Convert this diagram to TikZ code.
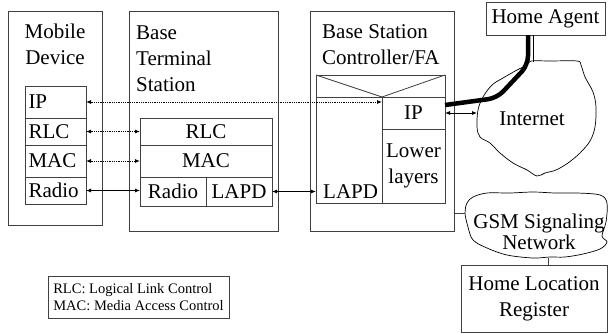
\documentclass[tikz,border=0pt]{standalone}
\usepackage{fontspec}
\setmainfont{Liberation Serif}
\newfontfamily\timesfont{Liberation Serif}
\usetikzlibrary{arrows.meta,positioning}
\newcommand\lblfont{\timesfont\fontsize{21}{26}\selectfont}
\newcommand\smallfont{\timesfont\fontsize{14.5}{16.5}\selectfont}
\tikzset{
  box/.style={draw=black!75,line width=0.8pt,inner sep=0pt,outer sep=0pt},
  title/.style={inner sep=0pt,font=\lblfont,align=left},
  mlayer/.style={box,font=\lblfont,minimum width=61,minimum height=#1,text width=54,align=left},
  clayer/.style={box,font=\lblfont,minimum height=#1},
  link/.style={line width=0.8pt,{Latex[length=5pt,width=4pt]}-{Latex[length=5pt,width=4pt]}},
  cloud line/.style={line width=0.7pt,smooth cycle,tension=0.55}
}
\begin{document}
\begin{tikzpicture}[x=1pt,y=-1pt]
  \useasboundingbox (0,0) rectangle (608,333);
  % Mobile device
  \node[box,minimum width=94,minimum height=214] (md) at (55,118) {};
  \node[title,anchor=north,align=center] at ([yshift=-13pt]md.north) {Mobile\\Device};
  \node[mlayer=32] (md-ip) at (55.5,102) {IP};
  \node[mlayer=27,below=0pt of md-ip] (md-rlc) {RLC};
  \node[mlayer=32,below=0pt of md-rlc] (md-mac) {MAC};
  \node[mlayer=27,below=0pt of md-mac] (md-radio) {Radio};
  % Base terminal station
  \node[box,minimum width=149,minimum height=220] (bts) at (203.5,121) {};
  \node[title,anchor=north west] at ([xshift=7pt,yshift=-15pt]bts.north west) {Base\\Terminal\\Station};
  \node[clayer=27,minimum width=132] (bts-rlc) at (206,131.5) {RLC};
  \node[clayer=32,minimum width=132,below=0pt of bts-rlc] (bts-mac) {MAC};
  \node[clayer=29,minimum width=66,below=0pt of bts-mac.south west,anchor=north west] (bts-radio) {Radio};
  \node[clayer=29,minimum width=66,right=0pt of bts-radio] (bts-lapd) {LAPD};
  % Base station controller
  \node[box,minimum width=144,minimum height=220] (bsc) at (382,121) {};
  \node[title,anchor=north west] at ([xshift=12pt,yshift=-13pt]bsc.north west) {Base Station\\Controller/FA};
  \node[box,minimum width=129,minimum height=128] (bscin) at (380.5,139) {};
  \node[clayer=32,minimum width=63] (bsc-ip) at (413.5,113) {IP};
  \node[clayer=74,minimum width=63,below=0pt of bsc-ip,align=center] (bsc-low) {Lower\\layers};
  \draw[box] (bscin.west |- bsc-ip.north) -- (bsc-ip.north west);
  \draw[box] (bscin.north west) -- (bsc-ip.north west) -- (bscin.north east);
  \node[title,anchor=base west] (bsc-lapd) at ([xshift=7pt,yshift=5pt]bscin.south west) {LAPD};
  % Home agent and home location register
  \node[box,font=\lblfont,minimum width=119,minimum height=33] (ha) at (545.5,18.5) {Home Agent};
  \node[box,font=\lblfont,align=center,minimum width=146,minimum height=67] (hlr) at (534,298.5) {Home Location\\Register};
  % Internet cloud
  \draw[cloud line] plot coordinates {(531,61) (550,61) (577,61) (581,65) (585,77) (593,92)
    (596,107) (595,127) (590,141) (580,153) (568,163) (556,170) (545,173) (537,176)
    (527,170) (513,163) (500,153) (490,143) (480,137) (477,127) (478,110) (483,97)
    (492,85) (503,78) (517,70) (527,65)};
  \node[title] (inet) at (532,119) {Internet};
  \coordinate (inet-w) at (477,113);
  \coordinate (inet-n) at (533,62);
  % GSM signaling network cloud
  \draw[cloud line] plot coordinates {(467,203) (473,197) (487,193) (510,193) (533,192)
    (555,193) (577,193) (600,195) (607,203) (606,222) (602,236) (607,242) (600,249)
    (583,254) (565,257) (550,257) (533,258) (507,255) (487,248) (473,240) (468,227)
    (465,213)};
  \node[title,align=center,font=\timesfont\fontsize{21}{21}\selectfont] (gsm) at (539,232) {GSM Signaling\\Network};
  \coordinate (gsm-w) at (465,213);
  \coordinate (gsm-s) at (548,258);
  % connections
  \draw[link,densely dotted] (md-ip.east) -- (md-ip.east -| bsc-ip.west);
  \draw[link,densely dotted] (md-rlc.east) -- (md-rlc.east -| bts-rlc.west);
  \draw[link,densely dotted] (md-mac.east) -- (md-mac.east -| bts-mac.west);
  \draw[link] (md-radio.east) -- (md-radio.east -| bts-radio.west);
  \draw[link] (bts-lapd.east) -- (bts-lapd.east -| bscin.west);
  \draw[link] (bsc-ip.east) -- (inet-w);
  \draw[line width=4.5pt,rounded corners=9pt] ([xshift=-17.5pt]ha.south) -- ++(0,30) -- (497,98) -- ([yshift=-8pt]bsc-ip.north east);
  \draw[line width=0.7pt] (inet-n |- ha.south) -- (inet-n);
  \draw[box] (gsm-w -| bsc.east) -- (gsm-w);
  \draw[box] (gsm-s) -- (gsm-s |- hlr.north);
  % legend
  \node[box,font=\smallfont,align=left,minimum width=181,minimum height=42] (legend) at (138.5,297)
    {RLC: Logical Link Control\\MAC: Media Access Control};
\end{tikzpicture}
\end{document}
